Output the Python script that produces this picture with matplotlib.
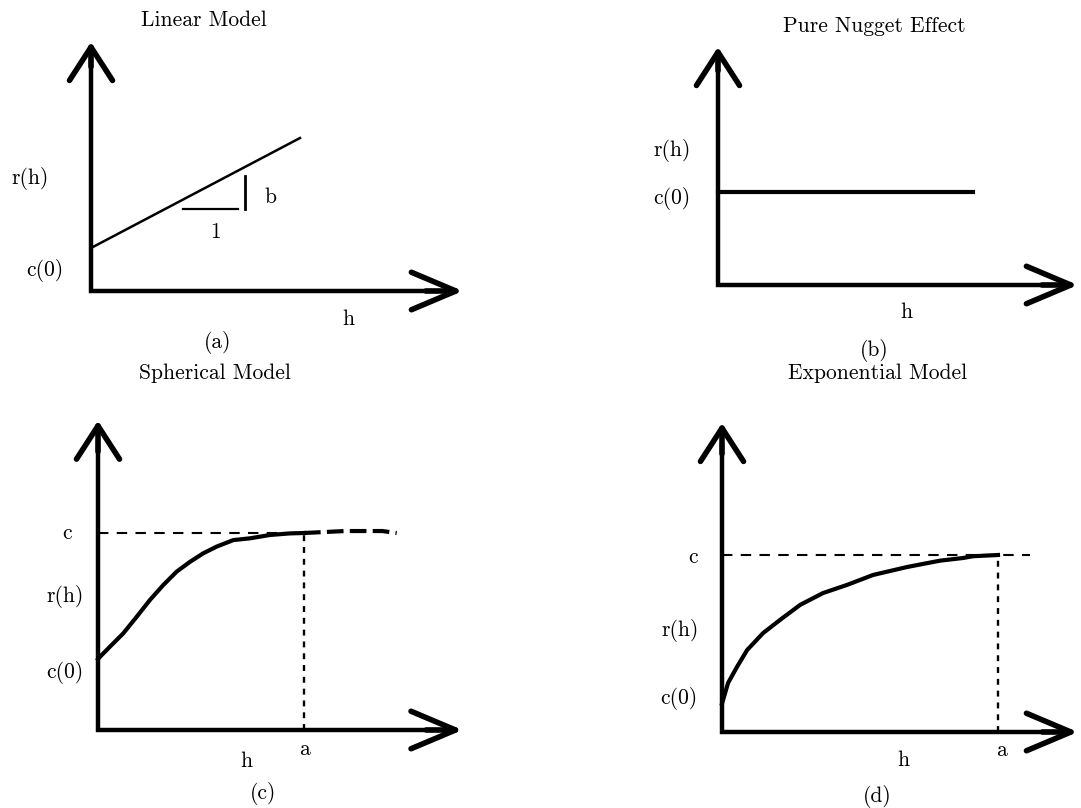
import matplotlib.pyplot as plt
from matplotlib.transforms import Affine2D

plt.rcParams['font.family'] = ['cmr10', 'DejaVu Serif']

W, H = 1081, 808

# ---- data (model units: h along x, r(h) along y) ----
# (a) linear model r = c0 + b*h
lin_h = [0.0, 2.09]
lin_r = [0.43, 1.53]
tri_run_h = [0.92, 1.47]
tri_run_r = [0.82, 0.82]
tri_rise_h = [1.54, 1.54]
tri_rise_r = [0.82, 1.15]

# (b) pure nugget
nug_h = [0.0, 2.55]
nug_r = [0.93, 0.93]

# (c) spherical model, h/a and r/c
sph_h = [0.0, 0.010, 0.058, 0.123, 0.188, 0.252, 0.317, 0.382, 0.447,
         0.511, 0.576, 0.657, 0.738, 0.835, 0.932, 1.0]
sph_r = [0.36, 0.372, 0.423, 0.491, 0.575, 0.660, 0.736, 0.804, 0.854,
         0.897, 0.931, 0.964, 0.973, 0.990, 0.998, 1.0]
sph_sill_h = [1.0, 1.20, 1.38, 1.45]
sph_sill_r = [1.0, 1.01, 1.01, 1.0]

# (d) exponential model, h/a and r/c
exp_h = [0.0, 0.022, 0.054, 0.091, 0.149, 0.210, 0.283, 0.366, 0.453,
         0.547, 0.670, 0.790, 0.873, 0.909, 1.0]
exp_r = [0.16, 0.277, 0.367, 0.463, 0.559, 0.633, 0.718, 0.785, 0.831,
         0.887, 0.932, 0.968, 0.983, 0.993, 1.0]

titles = ['Linear Model', 'Pure Nugget Effect', 'Spherical Model', 'Exponential Model']
tags = ['(a)', '(b)', '(c)', '(d)']

# ---- layout: origin in px, px per unit, axis arrow extents ----
panels = {
    'a': dict(origin=(91, 291), scale=(100, 100), xmax=3.72, ymax=2.49),
    'b': dict(origin=(718, 285), scale=(100, 100), xmax=3.60, ymax=2.38),
    'c': dict(origin=(98, 730), scale=(206, 197), xmax=1.77, ymax=1.57),
    'd': dict(origin=(722, 732), scale=(276, 177), xmax=1.29, ymax=1.746),
}

fig = plt.figure(figsize=(W / 100, H / 100), dpi=100)
ax = fig.add_axes([0, 0, 1, 1])
ax.set_xlim(0, W)
ax.set_ylim(H, 0)
ax.axis('off')


def panel_tf(p):
    ox, oy = p['origin']
    sx, sy = p['scale']
    return Affine2D().scale(sx, -sy).translate(ox, oy) + ax.transData


def draw_axes(p):
    tf = panel_tf(p)
    xm, ym = p['xmax'], p['ymax']
    ax.plot([0, 0, xm * 0.93], [ym * 0.93, 0, 0], color='black', lw=3.2,
            solid_joinstyle='miter', transform=tf)
    ax.annotate('', xy=(0, ym), xytext=(0, ym * 0.9), xycoords=tf, textcoords=tf,
                arrowprops=dict(arrowstyle='->,head_length=24,head_width=15.5',
                                mutation_scale=1, lw=4.0, color='black',
                                shrinkA=0, shrinkB=0))
    ax.annotate('', xy=(xm, 0), xytext=(xm * 0.9, 0), xycoords=tf, textcoords=tf,
                arrowprops=dict(arrowstyle='->,head_length=32,head_width=13.5',
                                mutation_scale=1, lw=4.0, color='black',
                                shrinkA=0, shrinkB=0))
    return tf


fs = 15.5


def label(tf, x, y, s, size=fs):
    ax.text(x, y, s, transform=tf, fontsize=size, ha='center', va='center')


# (a)
tf = draw_axes(panels['a'])
ax.plot(lin_h, lin_r, color='black', lw=1.8, transform=tf)
ax.plot(tri_run_h, tri_run_r, color='black', lw=1.6, transform=tf)
ax.plot(tri_rise_h, tri_rise_r, color='black', lw=2.0, transform=tf)
label(tf, 1.79, 0.94, 'b')
label(tf, 1.24, 0.59, '1')
label(tf, -0.61, 1.13, 'r(h)')
label(tf, -0.46, 0.21, 'c(0)')
label(tf, 2.57, -0.28, 'h')
label(tf, 1.27, -0.51, tags[0])
label(tf, 1.13, 2.71, titles[0])

# (b)
tf = draw_axes(panels['b'])
ax.plot(nug_h, nug_r, color='black', lw=3.0, transform=tf)
label(tf, -0.46, 1.34, 'r(h)')
label(tf, -0.46, 0.86, 'c(0)')
label(tf, 1.88, -0.27, 'h')
label(tf, 1.56, -0.65, tags[1])
label(tf, 1.56, 2.59, titles[1])

# (c)
tf = draw_axes(panels['c'])
ax.plot([0, 1.0], [1.0, 1.0], color='black', lw=1.5, ls=(0, (5, 4)), transform=tf)
ax.plot([1.0, 1.0], [0, 1.0], color='black', lw=1.7, ls=(0, (2.5, 2.5)), transform=tf)
ax.plot(sph_h, sph_r, color='black', lw=3.0, transform=tf)
ax.plot(sph_sill_h, sph_sill_r, color='black', lw=3.0, ls=(0, (4, 1.5)), transform=tf)
label(tf, -0.15, 1.0, 'c')
label(tf, -0.16, 0.68, 'r(h)')
label(tf, -0.16, 0.29, 'c(0)')
label(tf, 1.0, -0.096, 'a')
label(tf, 0.72, -0.16, 'h')
label(tf, 0.80, -0.32, tags[2])
label(tf, 0.57, 1.81, titles[2])

# (d)
tf = draw_axes(panels['d'])
ax.plot([0, 1.116], [1.0, 1.0], color='black', lw=1.5, ls=(0, (5, 4)), transform=tf)
ax.plot([1.0, 1.0], [0, 1.0], color='black', lw=1.7, ls=(0, (2.5, 2.5)), transform=tf)
ax.plot(exp_h, exp_r, color='black', lw=3.0, transform=tf)
label(tf, -0.105, 0.989, 'c')
label(tf, -0.152, 0.576, 'r(h)')
label(tf, -0.156, 0.192, 'c(0)')
label(tf, 0.656, -0.158, 'h')
label(tf, 1.014, -0.102, 'a')
label(tf, 0.562, -0.367, tags[3])
label(tf, 0.562, 2.028, titles[3])

fig.savefig('out.png', dpi=100, facecolor='white')
